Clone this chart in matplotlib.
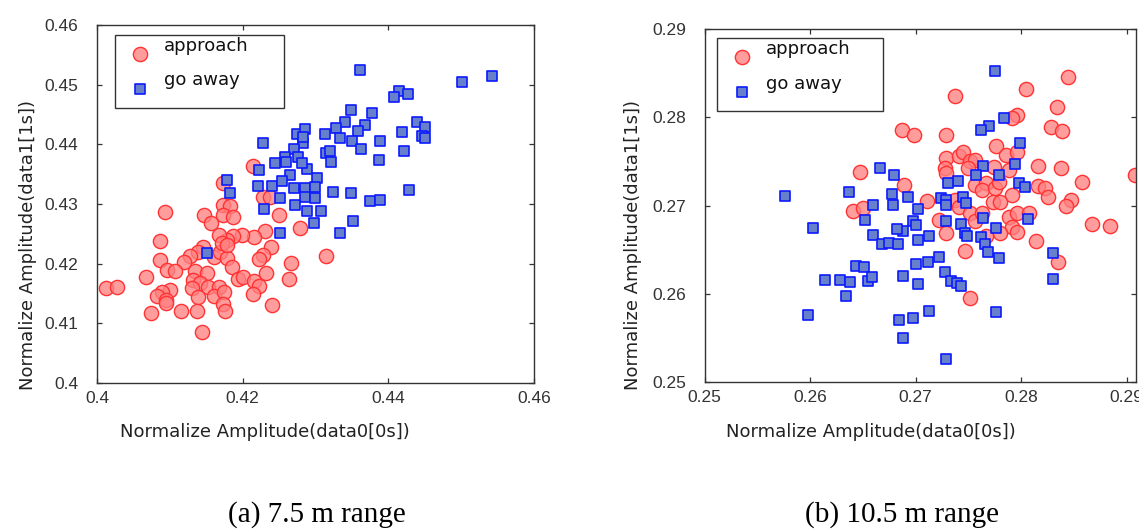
import numpy as np
import matplotlib
matplotlib.use("Agg")
import matplotlib.pyplot as plt
from matplotlib.patches import Rectangle

# ---- data ----
# (a) 7.5 m range
a_app_x = [0.4214, 0.4173, 0.4228, 0.4238, 0.4093, 0.4147, 0.4157, 0.4173, 0.4183, 0.4173,
           0.4187, 0.4250, 0.4279, 0.4231, 0.4216, 0.4199, 0.4187, 0.4178, 0.4167, 0.4086,
           0.4239, 0.4228, 0.4223, 0.4146, 0.4139, 0.4128, 0.4120, 0.4160, 0.4169, 0.4179,
           0.4185, 0.4171, 0.4178, 0.4086, 0.4096, 0.4107, 0.4134, 0.4151, 0.4067, 0.4012,
           0.4028, 0.4194, 0.4201, 0.4216, 0.4223, 0.4232, 0.4267, 0.4264, 0.4132, 0.4141,
           0.4130, 0.4153, 0.4167, 0.4100, 0.4089, 0.4082, 0.4095, 0.4095, 0.4138, 0.4160,
           0.4174, 0.4173, 0.4176, 0.4214, 0.4240, 0.4074, 0.4116, 0.4137, 0.4144, 0.4314]
a_app_y = [0.4364, 0.4336, 0.4311, 0.4311, 0.4287, 0.4282, 0.4268, 0.4298, 0.4296, 0.4282,
           0.4279, 0.4282, 0.4259, 0.4254, 0.4244, 0.4248, 0.4246, 0.4240, 0.4248, 0.4238,
           0.4228, 0.4215, 0.4207, 0.4228, 0.4220, 0.4213, 0.4203, 0.4212, 0.4220, 0.4209,
           0.4195, 0.4234, 0.4231, 0.4206, 0.4189, 0.4187, 0.4188, 0.4185, 0.4177, 0.4159,
           0.4161, 0.4174, 0.4177, 0.4171, 0.4163, 0.4184, 0.4201, 0.4175, 0.4173, 0.4167,
           0.4160, 0.4161, 0.4161, 0.4156, 0.4153, 0.4146, 0.4139, 0.4134, 0.4144, 0.4145,
           0.4153, 0.4132, 0.4120, 0.4149, 0.4131, 0.4118, 0.4121, 0.4121, 0.4086, 0.4213]
a_go_x = [0.4228, 0.4274, 0.4286, 0.4283, 0.4270, 0.4258, 0.4276, 0.4244, 0.4259, 0.4288,
          0.4223, 0.4265, 0.4302, 0.4221, 0.4240, 0.4254, 0.4270, 0.4286, 0.4179, 0.4182,
          0.4251, 0.4286, 0.4299, 0.4361, 0.4501, 0.4543, 0.4415, 0.4408, 0.4427, 0.4349,
          0.4378, 0.4340, 0.4368, 0.4328, 0.4358, 0.4313, 0.4334, 0.4350, 0.4440, 0.4451,
          0.4419, 0.4446, 0.4450, 0.4388, 0.4283, 0.4362, 0.4314, 0.4320, 0.4321, 0.4421,
          0.4387, 0.4281, 0.4299, 0.4428, 0.4324, 0.4349, 0.4375, 0.4388, 0.4289, 0.4308,
          0.4298, 0.4351, 0.4333, 0.4229, 0.4272, 0.4251, 0.4151]
a_go_y = [0.4402, 0.4418, 0.4425, 0.4402, 0.4393, 0.4379, 0.4378, 0.4368, 0.4371, 0.4359,
          0.4357, 0.4349, 0.4343, 0.4331, 0.4331, 0.4339, 0.4327, 0.4327, 0.4341, 0.4318,
          0.4310, 0.4311, 0.4310, 0.4525, 0.4505, 0.4515, 0.4489, 0.4480, 0.4485, 0.4458,
          0.4453, 0.4438, 0.4432, 0.4427, 0.4423, 0.4417, 0.4410, 0.4406, 0.4438, 0.4429,
          0.4420, 0.4414, 0.4410, 0.4406, 0.4413, 0.4392, 0.4385, 0.4388, 0.4371, 0.4388,
          0.4373, 0.4368, 0.4329, 0.4323, 0.4320, 0.4319, 0.4305, 0.4307, 0.4289, 0.4289,
          0.4268, 0.4272, 0.4252, 0.4292, 0.4298, 0.4251, 0.4218]

# (b) 10.5 m range
b_app_x = [0.2687, 0.2699, 0.2647, 0.2689, 0.2641, 0.2650, 0.2845, 0.2805, 0.2737, 0.2834,
           0.2796, 0.2791, 0.2828, 0.2839, 0.2729, 0.2776, 0.2786, 0.2796, 0.2729, 0.2741,
           0.2745, 0.2752, 0.2756, 0.2728, 0.2729, 0.2750, 0.2774, 0.2789, 0.2816, 0.2838,
           0.2908, 0.2858, 0.2756, 0.2767, 0.2763, 0.2775, 0.2779, 0.2791, 0.2816, 0.2823,
           0.2826, 0.2847, 0.2711, 0.2773, 0.2780, 0.2737, 0.2741, 0.2843, 0.2722, 0.2729,
           0.2752, 0.2756, 0.2763, 0.2789, 0.2796, 0.2808, 0.2791, 0.2796, 0.2780, 0.2767,
           0.2814, 0.2747, 0.2867, 0.2884, 0.2835, 0.2752]
b_app_y = [0.2785, 0.2780, 0.2738, 0.2723, 0.2694, 0.2697, 0.2846, 0.2832, 0.2824, 0.2812,
           0.2803, 0.2799, 0.2789, 0.2784, 0.2780, 0.2767, 0.2757, 0.2761, 0.2754, 0.2756,
           0.2761, 0.2750, 0.2751, 0.2742, 0.2737, 0.2742, 0.2744, 0.2740, 0.2745, 0.2742,
           0.2735, 0.2727, 0.2723, 0.2725, 0.2718, 0.2720, 0.2727, 0.2712, 0.2722, 0.2720,
           0.2710, 0.2706, 0.2705, 0.2704, 0.2704, 0.2706, 0.2698, 0.2699, 0.2684, 0.2669,
           0.2691, 0.2682, 0.2691, 0.2687, 0.2692, 0.2692, 0.2676, 0.2670, 0.2669, 0.2665,
           0.2660, 0.2648, 0.2679, 0.2677, 0.2636, 0.2595]
b_go_x = [0.2666, 0.2680, 0.2576, 0.2637, 0.2678, 0.2693, 0.2660, 0.2775, 0.2784, 0.2770,
          0.2762, 0.2799, 0.2794, 0.2764, 0.2779, 0.2757, 0.2740, 0.2731, 0.2798, 0.2804,
          0.2724, 0.2729, 0.2745, 0.2748, 0.2729, 0.2702, 0.2698, 0.2700, 0.2688, 0.2702,
          0.2713, 0.2729, 0.2743, 0.2747, 0.2749, 0.2764, 0.2776, 0.2762, 0.2766, 0.2769,
          0.2779, 0.2807, 0.2830, 0.2830, 0.2722, 0.2712, 0.2700, 0.2688, 0.2702, 0.2728,
          0.2734, 0.2739, 0.2743, 0.2713, 0.2698, 0.2684, 0.2688, 0.2776, 0.2729, 0.2652,
          0.2603, 0.2682, 0.2660, 0.2668, 0.2675, 0.2683, 0.2644, 0.2651, 0.2614, 0.2628,
          0.2638, 0.2655, 0.2659, 0.2634, 0.2598, 0.2679]
b_go_y = [0.2742, 0.2734, 0.2711, 0.2715, 0.2713, 0.2710, 0.2701, 0.2852, 0.2799, 0.2790,
          0.2785, 0.2771, 0.2747, 0.2745, 0.2735, 0.2734, 0.2728, 0.2725, 0.2726, 0.2721,
          0.2709, 0.2706, 0.2710, 0.2703, 0.2701, 0.2696, 0.2682, 0.2678, 0.2671, 0.2661,
          0.2665, 0.2682, 0.2679, 0.2669, 0.2665, 0.2686, 0.2675, 0.2664, 0.2656, 0.2647,
          0.2641, 0.2685, 0.2646, 0.2617, 0.2642, 0.2636, 0.2634, 0.2620, 0.2611, 0.2625,
          0.2615, 0.2612, 0.2609, 0.2580, 0.2572, 0.2570, 0.2550, 0.2579, 0.2526, 0.2684,
          0.2675, 0.2673, 0.2667, 0.2656, 0.2658, 0.2656, 0.2631, 0.2630, 0.2616, 0.2616,
          0.2613, 0.2614, 0.2619, 0.2597, 0.2576, 0.2701]

a_xticks = [0.40, 0.42, 0.44, 0.46]
a_xlabels = ['0.4', '0.42', '0.44', '0.46']
a_yticks = [0.40, 0.41, 0.42, 0.43, 0.44, 0.45, 0.46]
a_ylabels = ['0.4', '0.41', '0.42', '0.43', '0.44', '0.45', '0.46']
b_ticks = [0.25, 0.26, 0.27, 0.28, 0.29]
b_labels = ['0.25', '0.26', '0.27', '0.28', '0.29']

captions = ['(a) 7.5 m range', '(b) 10.5 m range']
series_names = ['approach', 'go away']

# ---- style ----
circ_face = (1.0, 0.5, 0.5, 0.78)
circ_edge = (1.0, 0.2, 0.2)
sq_face = (0.40, 0.50, 0.80)
sq_edge = (0.05, 0.10, 1.0)
s_circ = 105
s_sq = 62
tick_font = ['Liberation Sans', 'DejaVu Sans']
lab_font = 'DejaVu Sans'

fig = plt.figure(figsize=(11.39, 5.29), dpi=100)
ax_a = fig.add_axes([0.08516, 0.27599, 0.38367, 0.67675])
ax_b = fig.add_axes([0.61853, 0.27788, 0.37884, 0.66730])


def style_axes(ax, xlim, ylim, xt, xl, yt, yl):
    ax.set_xlim(*xlim)
    ax.set_ylim(*ylim)
    ax.set_xticks(xt)
    ax.set_xticklabels(xl)
    ax.set_yticks(yt)
    ax.set_yticklabels(yl)
    for sp in ax.spines.values():
        sp.set_color('#333333')
        sp.set_linewidth(1.0)
    ax.tick_params(direction='in', top=True, right=True, length=3.5, width=0.9,
                   color='#333333', labelcolor='#333333', labelsize=12.5)
    ax.tick_params(axis='y', pad=13.5)
    ax.tick_params(axis='x', pad=5.5)
    for lbl in ax.get_xticklabels() + ax.get_yticklabels():
        lbl.set_family(tick_font)


def draw_legend(ax, box, mx, my, tx, ty):
    ax.add_patch(Rectangle((box[0], box[1]), box[2], box[3], transform=ax.transAxes,
                           facecolor='white', edgecolor='#333333', lw=1.0, zorder=5))
    ax.scatter([mx], [my[0]], s=s_circ, marker='o', facecolor=circ_face,
               edgecolor=circ_edge, linewidth=1.0, transform=ax.transAxes, zorder=6)
    ax.scatter([mx], [my[1]], s=s_sq, marker='s', facecolor=sq_face,
               edgecolor=sq_edge, linewidth=1.2, transform=ax.transAxes, zorder=6)
    for name, y in zip(series_names, ty):
        ax.text(tx, y, name, transform=ax.transAxes, fontsize=13, family=lab_font,
                color='#111111', va='center', ha='left', zorder=7)


panels = [
    (ax_a, a_app_x, a_app_y, a_go_x, a_go_y),
    (ax_b, b_app_x, b_app_y, b_go_x, b_go_y),
]
for ax, ax_, ay_, gx_, gy_ in panels:
    ax.scatter(ax_, ay_, s=s_circ, marker='o', facecolor=circ_face,
               edgecolor=circ_edge, linewidth=1.0, zorder=2)
    ax.scatter(gx_, gy_, s=s_sq, marker='s', facecolor=sq_face,
               edgecolor=sq_edge, linewidth=1.2, zorder=3)

style_axes(ax_a, (0.40, 0.46), (0.40, 0.46), a_xticks, a_xlabels, a_yticks, a_ylabels)
style_axes(ax_b, (0.25, 0.2909), (0.25, 0.29), b_ticks, b_labels, b_ticks, b_labels)

draw_legend(ax_a, (0.0412, 0.769, 0.3868, 0.203), 0.0984, (0.919, 0.821), 0.153, (0.942, 0.846))
draw_legend(ax_b, (0.0297, 0.7685, 0.3847, 0.2052), 0.0876, (0.920, 0.821), 0.1418, (0.943, 0.844))

for ax, xc, yc in [(ax_a, (0.3844, -0.137), (-0.158, 0.3855)),
                   (ax_b, (0.3859, -0.1416), (-0.166, 0.388))]:
    ax.set_xlabel('Normalize Amplitude(data0[0s])', fontsize=13, family=lab_font, color='#222222')
    ax.set_ylabel('Normalize Amplitude(data1[1s])', fontsize=13, family=lab_font, color='#222222')
    ax.xaxis.set_label_coords(*xc)
    ax.yaxis.set_label_coords(*yc)
    ax.xaxis.label.set_va('center')
    ax.yaxis.label.set_va('center')

fig.text(0.2783, 0.0265, captions[0], ha='center', va='center',
         fontsize=21, family='Liberation Serif', color='black')
fig.text(0.7919, 0.0265, captions[1], ha='center', va='center',
         fontsize=21, family='Liberation Serif', color='black')

fig.savefig('out.png', dpi=100)
